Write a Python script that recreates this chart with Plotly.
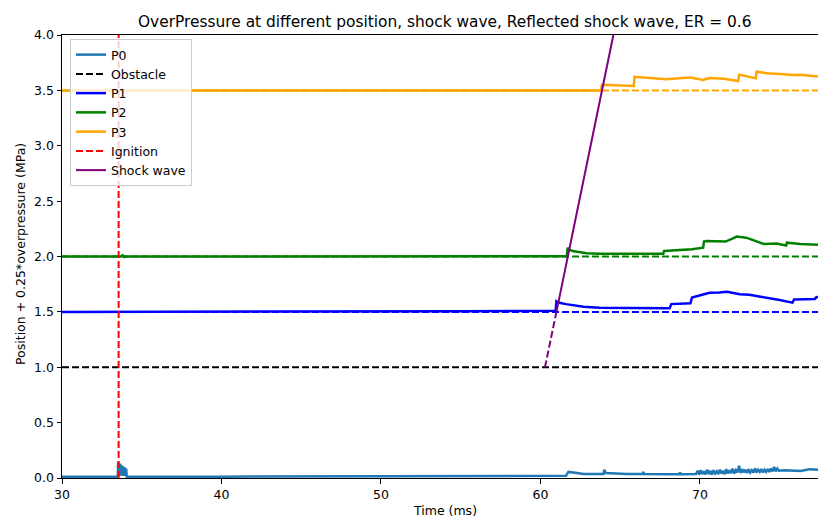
import plotly.graph_objects as go

# ---------------- data ----------------
p0_t = [30.0, 33.50, 33.52, 33.54, 33.57, 33.60, 33.63, 33.66, 33.70, 33.74, 33.78,
        33.82, 33.86, 33.90, 33.94, 33.98, 34.02, 34.06, 40.0, 50.0, 55.0, 61.6,
        61.75, 62.0, 62.3, 62.7, 63.95, 64.0, 64.1, 65.4, 66.4, 66.45, 66.5, 68.7,
        68.75, 68.8, 69.75,
        69.85, 69.95, 70.05, 70.15, 70.25, 70.35, 70.45, 70.55, 70.65, 70.75,
        70.85, 70.95, 71.05, 71.15, 71.25, 71.35, 71.45, 71.55, 71.65, 71.75,
        71.85, 71.95, 72.05, 72.15, 72.25, 72.35, 72.45, 72.55, 72.65, 72.75,
        72.85, 72.95, 73.05, 73.15, 73.25, 73.35, 73.45, 73.55, 73.65, 73.75,
        73.85, 73.95, 74.05, 74.15, 74.25, 74.35, 74.45, 74.55, 74.65, 74.75,
        74.85, 74.95, 75.3, 75.8, 76.3, 76.7, 76.9, 77.4]
p0_v = [0.012, 0.012, 0.145, 0.015, 0.135, 0.02, 0.13, 0.025, 0.12, 0.02, 0.11,
        0.025, 0.10, 0.02, 0.095, 0.025, 0.085, 0.012, 0.012, 0.015, 0.018, 0.02,
        0.055, 0.052, 0.045, 0.036, 0.036, 0.075, 0.045, 0.036, 0.036, 0.055, 0.036, 0.034,
        0.05, 0.034, 0.036,
        0.065, 0.03, 0.07, 0.035, 0.06, 0.032, 0.075, 0.035, 0.065, 0.03,
        0.07, 0.04, 0.06, 0.035, 0.075, 0.04, 0.065, 0.035, 0.08, 0.04,
        0.07, 0.045, 0.085, 0.04, 0.07, 0.05, 0.11, 0.045, 0.08, 0.05,
        0.075, 0.045, 0.08, 0.05, 0.07, 0.05, 0.085, 0.05, 0.075, 0.055,
        0.08, 0.05, 0.075, 0.055, 0.08, 0.055, 0.085, 0.06, 0.10, 0.06,
        0.085, 0.065, 0.07, 0.068, 0.063, 0.075, 0.08, 0.075]

p1_t = [30.0, 50.0, 55.0, 60.95, 61.0, 61.1, 61.6, 62.7, 63.7, 65.5, 68.1, 68.2,
        69.4, 69.5, 70.0, 70.6, 71.2, 71.7, 72.5, 73.1, 73.8, 74.4, 75.0, 75.8,
        75.9, 76.6, 77.2, 77.3, 77.4]
p1_v = [1.5, 1.5, 1.505, 1.51, 1.595, 1.585, 1.57, 1.547, 1.537, 1.535, 1.532, 1.57,
        1.577, 1.63, 1.648, 1.672, 1.676, 1.682, 1.66, 1.655, 1.637, 1.625, 1.607, 1.583,
        1.612, 1.614, 1.617, 1.632, 1.635]

p2_t = [30.0, 33.7, 33.8, 33.9, 34.0, 61.65, 61.7, 61.8, 62.0, 62.9, 63.7, 65.0,
        67.7, 67.75, 68.7, 69.5, 70.2, 70.25, 70.4, 71.0, 71.6, 72.0, 72.3, 72.9,
        73.5, 74.0, 74.8, 75.4, 75.45, 76.3, 77.4]
p2_v = [2.0, 2.0, 2.012, 1.995, 2.0, 2.002, 2.078, 2.065, 2.05, 2.03, 2.025, 2.025,
        2.025, 2.05, 2.06, 2.065, 2.08, 2.135, 2.14, 2.135, 2.135, 2.16, 2.18, 2.17,
        2.14, 2.113, 2.118, 2.1, 2.125, 2.113, 2.105]

p3_t = [30.0, 63.8, 63.85, 64.5, 65.85, 65.9, 66.5, 67.9, 68.5, 69.4, 70.2, 70.6,
        71.5, 72.4, 72.45, 73.0, 73.5, 73.55, 74.2, 75.0, 75.85, 76.3, 77.4]
p3_v = [3.5, 3.5, 3.55, 3.548, 3.54, 3.622, 3.615, 3.6, 3.608, 3.617, 3.594, 3.612,
        3.605, 3.585, 3.642, 3.625, 3.61, 3.668, 3.655, 3.648, 3.638, 3.642, 3.625]

positions = {"P1": 1.5, "P2": 2.0, "P3": 3.5}
obstacle_y = 1.0
ignition_t = 33.55
x_range = [30.0, 77.4]
y_range = [0.0, 4.0]

shock_solid_t = [61.0, 64.57]
shock_solid_v = [1.5, 4.0]
shock_dash_t = [60.28, 61.0]
shock_dash_v = [1.0, 1.5]

x_ticks = [30, 40, 50, 60, 70]
y_ticks = [0.0, 0.5, 1.0, 1.5, 2.0, 2.5, 3.0, 3.5, 4.0]

# ---------------- figure ----------------
FONT = "DejaVu Sans"
DASH = "7px,3px"
W = 2

fig = go.Figure()
fig.add_trace(go.Scatter(x=p0_t, y=p0_v, mode="lines", name="P0",
                         line=dict(color="#1f77b4", width=2.5)))
fig.add_trace(go.Scatter(x=x_range, y=[obstacle_y, obstacle_y], mode="lines", name="Obstacle",
                         line=dict(color="black", width=W, dash=DASH)))
for name, t, v, col in [("P1", p1_t, p1_v, "blue"), ("P2", p2_t, p2_v, "green"),
                        ("P3", p3_t, p3_v, "orange")]:
    fig.add_trace(go.Scatter(x=x_range, y=[positions[name]] * 2, mode="lines",
                             showlegend=False, line=dict(color=col, width=W, dash=DASH)))
    fig.add_trace(go.Scatter(x=t, y=v, mode="lines", name=name,
                             line=dict(color=col, width=2.5)))
fig.add_trace(go.Scatter(x=[ignition_t, ignition_t], y=y_range, mode="lines", name="Ignition",
                         line=dict(color="red", width=W, dash=DASH)))
fig.add_trace(go.Scatter(x=shock_solid_t, y=shock_solid_v, mode="lines", name="Shock wave",
                         line=dict(color="purple", width=W)))
fig.add_trace(go.Scatter(x=shock_dash_t, y=shock_dash_v, mode="lines", showlegend=False,
                         line=dict(color="purple", width=W, dash=DASH)))

L, R, T, B = 62, 0, 35, 39
WID, HEI = 818, 517
pw = WID - L - R
ph = HEI - T - B

fig.update_layout(
    width=WID, height=HEI,
    margin=dict(l=L, r=R, t=T, b=B, pad=0),
    paper_bgcolor="white", plot_bgcolor="white",
    font=dict(family=FONT, size=12.5, color="black"),
    showlegend=True,
    legend=dict(x=(70 - L) / pw, y=1 - (39 - T) / ph, xanchor="left", yanchor="top",
                bgcolor="rgba(255,255,255,0.8)", bordercolor="#cccccc", borderwidth=1,
                font=dict(family=FONT, size=12.5), itemwidth=30, tracegroupgap=0),
    xaxis=dict(range=x_range, tickvals=x_ticks, ticktext=[str(v) for v in x_ticks],
               showgrid=False, zeroline=False, showline=True, linecolor="black",
               linewidth=1, mirror=True, ticks="outside", ticklen=4.5, tickcolor="black",
               tickfont=dict(size=12.5)),
    yaxis=dict(range=y_range, tickvals=y_ticks, ticktext=[f"{v:.1f}" for v in y_ticks],
               showgrid=False, zeroline=False, showline=True, linecolor="black",
               linewidth=1, ticks="outside", ticklen=4.5, tickcolor="black",
               tickfont=dict(size=12.5)),
    annotations=[
        dict(text="OverPressure at different position, shock wave, Reflected shock wave, ER = 0.6",
             xref="paper", yref="paper", x=(445 - L) / pw, y=1 + (T - 22) / ph,
             xanchor="center", yanchor="middle", showarrow=False,
             font=dict(family=FONT, size=15.4)),
        dict(text="Time (ms)", xref="paper", yref="paper", x=(445 - L) / pw,
             y=-(510 - (T + ph)) / ph, xanchor="center", yanchor="middle",
             showarrow=False, font=dict(family=FONT, size=12.5)),
        dict(text="Position + 0.25*overpressure (MPa)", xref="paper", yref="paper",
             x=-(L - 20) / pw, y=0.5 + (T + ph / 2 - 254) / ph, xanchor="center",
             yanchor="middle", textangle=-90, showarrow=False,
             font=dict(family=FONT, size=12.5)),
    ],
)

fig.write_html("out.html")
